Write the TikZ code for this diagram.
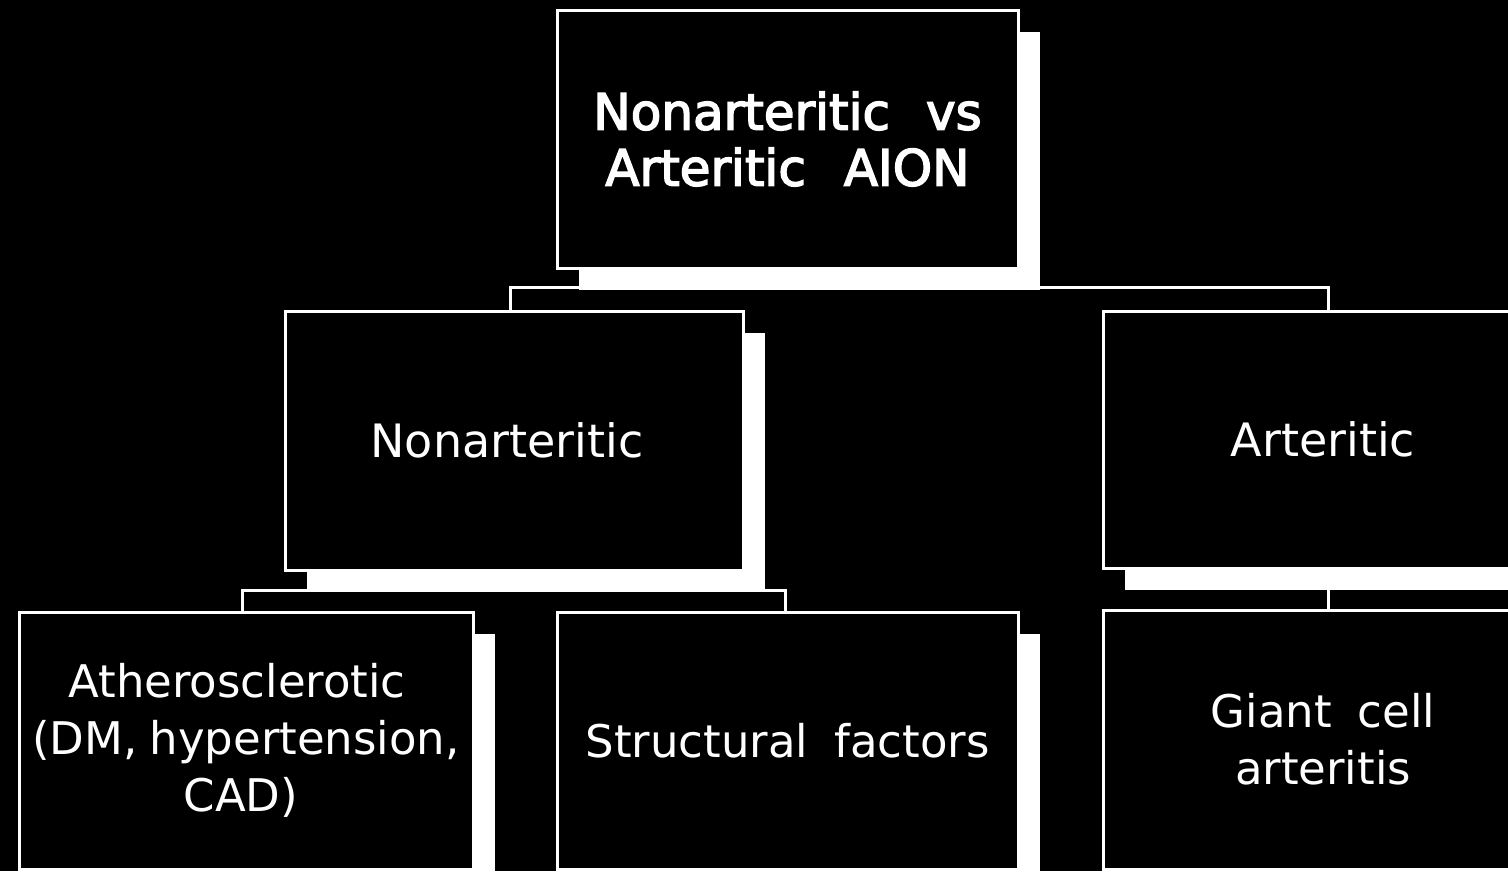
\documentclass[tikz,border=0pt]{standalone}
\usepackage{fontspec}
\setmainfont{DejaVu Sans}
\newfontfamily\topfont{DejaVu Sans}[FakeBold=3]
\usetikzlibrary{shadows}
\tikzset{
  box/.style={draw=white, fill=black, line width=3pt, inner sep=0pt,
    text=white, align=center,
    drop shadow={shadow xshift=22pt, shadow yshift=-22pt, fill=white, opacity=1}},
  conn/.style={draw=white, line width=3pt},
  bigtxt/.style={font=\topfont\fontsize{50pt}{56pt}\selectfont},
  midtxt/.style={font=\fontsize{46pt}{56pt}\selectfont},
  lowtxt/.style={font=\fontsize{45pt}{57pt}\selectfont}
}
\begin{document}
\begin{tikzpicture}[x=1pt, y=-1pt]
\fill[black] (0,0) rectangle (1508,871);
\useasboundingbox (0,0) rectangle (1508,871);
\clip (0,0) rectangle (1508,871);

\node[box, bigtxt, minimum width=461pt, minimum height=258pt] (top) at (787.5,139)
  {Nonarteritic\hspace{36pt}vs\\Arteritic\hspace{38pt}AION};
\node[box, midtxt, minimum width=458pt, minimum height=259pt] (nonart) at (514,440.5)
  {\hspace*{-14pt}Nonarteritic};
\node[box, midtxt, minimum width=440pt, minimum height=257pt] (art) at (1323,439.5)
  {Arteritic};
\node[box, lowtxt, minimum width=454pt, minimum height=257pt] (ath) at (246,740.5)
  {\hspace*{-18pt}Atherosclerotic\\(DM,\hspace{12pt}hypertension,\\\hspace*{-10pt}CAD)};
\node[box, lowtxt, minimum width=461pt, minimum height=257pt] (struct) at (787.5,740.5)
  {Structural\hspace{26pt}factors};
\node[box, lowtxt, minimum width=440pt, minimum height=259pt] (giant) at (1323,739.5)
  {Giant\hspace{26pt}cell\\arteritis};

\draw[conn] ([xshift=-4pt]nonart.north) -- ++(0,-22) -| ([xshift=5pt]art.north);
\draw[conn] ([xshift=-4pt]ath.north) -- ++(0,-20) -| ([xshift=-2pt]struct.north);
\draw[conn] ([xshift=5pt]art.south) -- ([xshift=5pt]giant.north);
\end{tikzpicture}
\end{document}
